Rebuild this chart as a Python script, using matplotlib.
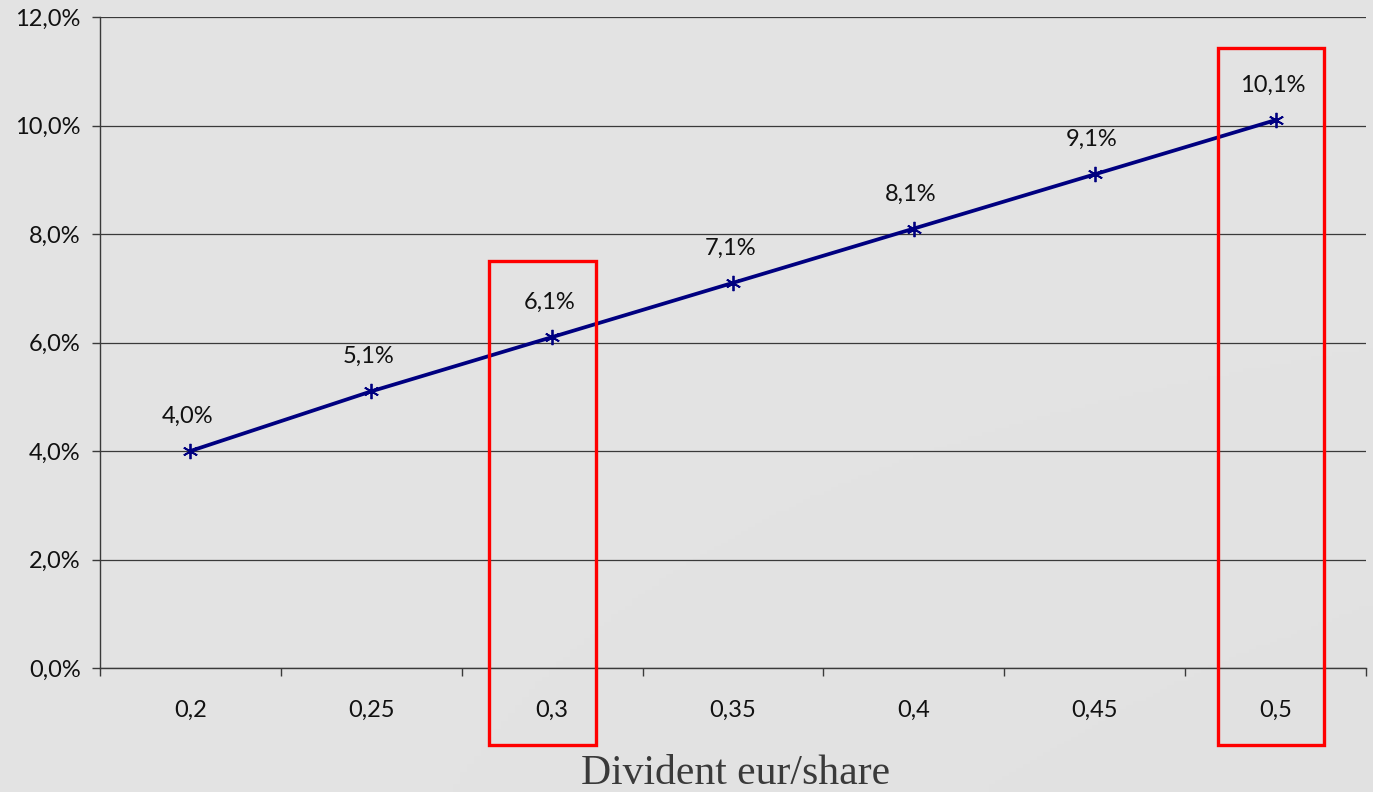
import numpy as np
import matplotlib.pyplot as plt
from matplotlib.patches import Rectangle

# data
categories = ["0,2", "0,25", "0,3", "0,35", "0,4", "0,45", "0,5"]
yield_pct = [4.0, 5.1, 6.1, 7.1, 8.1, 9.1, 10.1]
highlight = ["0,3", "0,5"]
y_ticks = [0, 2, 4, 6, 8, 10, 12]

fig = plt.figure(figsize=(13.73, 7.92), dpi=100)
fig.patch.set_facecolor("#e3e3e3")

# soft background gradient
bg = fig.add_axes([0, 0, 1, 1], zorder=-10)
gx = np.linspace(0, 1, 200)
gy = np.linspace(0, 1, 200)
GX, GY = np.meshgrid(gx, gy)
grad = 0.89 - 0.01 * GX + 0.012 * GY * GX
bg.imshow(grad, cmap="gray", vmin=0, vmax=1, aspect="auto", origin="lower",
          extent=[0, 1, 0, 1])
bg.axis("off")

ax = fig.add_axes([100 / 1373, 1 - 668 / 792, 1266 / 1373, 651 / 792])
ax.set_facecolor("none")

x = np.arange(len(categories))
ax.plot(x, yield_pct, color="#000080", lw=2.7, marker=(6, 2, 0), ms=11,
        mew=1.3, mec="#000080", zorder=3)

for xi, v in zip(x, yield_pct):
    ax.annotate(f"{v:.1f}%".replace(".", ","), (xi, v), xytext=(-2, 25),
                textcoords="offset points", ha="center", va="center",
                fontsize=17, family="Lato", color="#111111")

ax.set_xlim(-0.5, len(categories) - 0.5)
ax.set_ylim(0, 12)
ax.set_yticks(y_ticks)
ax.set_yticklabels([f"{t:.1f}%".replace(".", ",") for t in y_ticks],
                   fontsize=17, family="Lato", color="#111111")
ax.yaxis.grid(True, color="#3a3a3a", lw=0.9)
ax.set_axisbelow(True)

ax.set_xticks(x)
ax.set_xticklabels(categories, fontsize=17, family="Lato", color="#111111")
ax.set_xticks(np.arange(-0.5, len(categories)), minor=True)
ax.tick_params(axis="x", which="major", length=0, pad=23)
ax.tick_params(axis="x", which="minor", length=6, width=1, color="#3a3a3a")
ax.tick_params(axis="y", length=6, width=1, color="#3a3a3a", pad=8)

for side in ["top", "right"]:
    ax.spines[side].set_visible(False)
for side in ["left", "bottom"]:
    ax.spines[side].set_color("#3a3a3a")
    ax.spines[side].set_linewidth(1)

# red highlight boxes
box_shift = [-0.35, -0.32]
box_top = [7.5, 11.43]
for cat, dx, top in zip(highlight, box_shift, box_top):
    i = categories.index(cat)
    r = Rectangle((i + dx, -1.42), 0.59, top + 1.42, fill=False,
                  ec="#ff0000", lw=2.4, clip_on=False, zorder=4)
    ax.add_patch(r)

fig.text(736 / 1373, 1 - 774 / 792, "Divident eur/share", ha="center",
         va="center", fontsize=30, family="Liberation Serif", color="#3a3a3a")

plt.savefig("out.png", dpi=100, facecolor=fig.get_facecolor())
